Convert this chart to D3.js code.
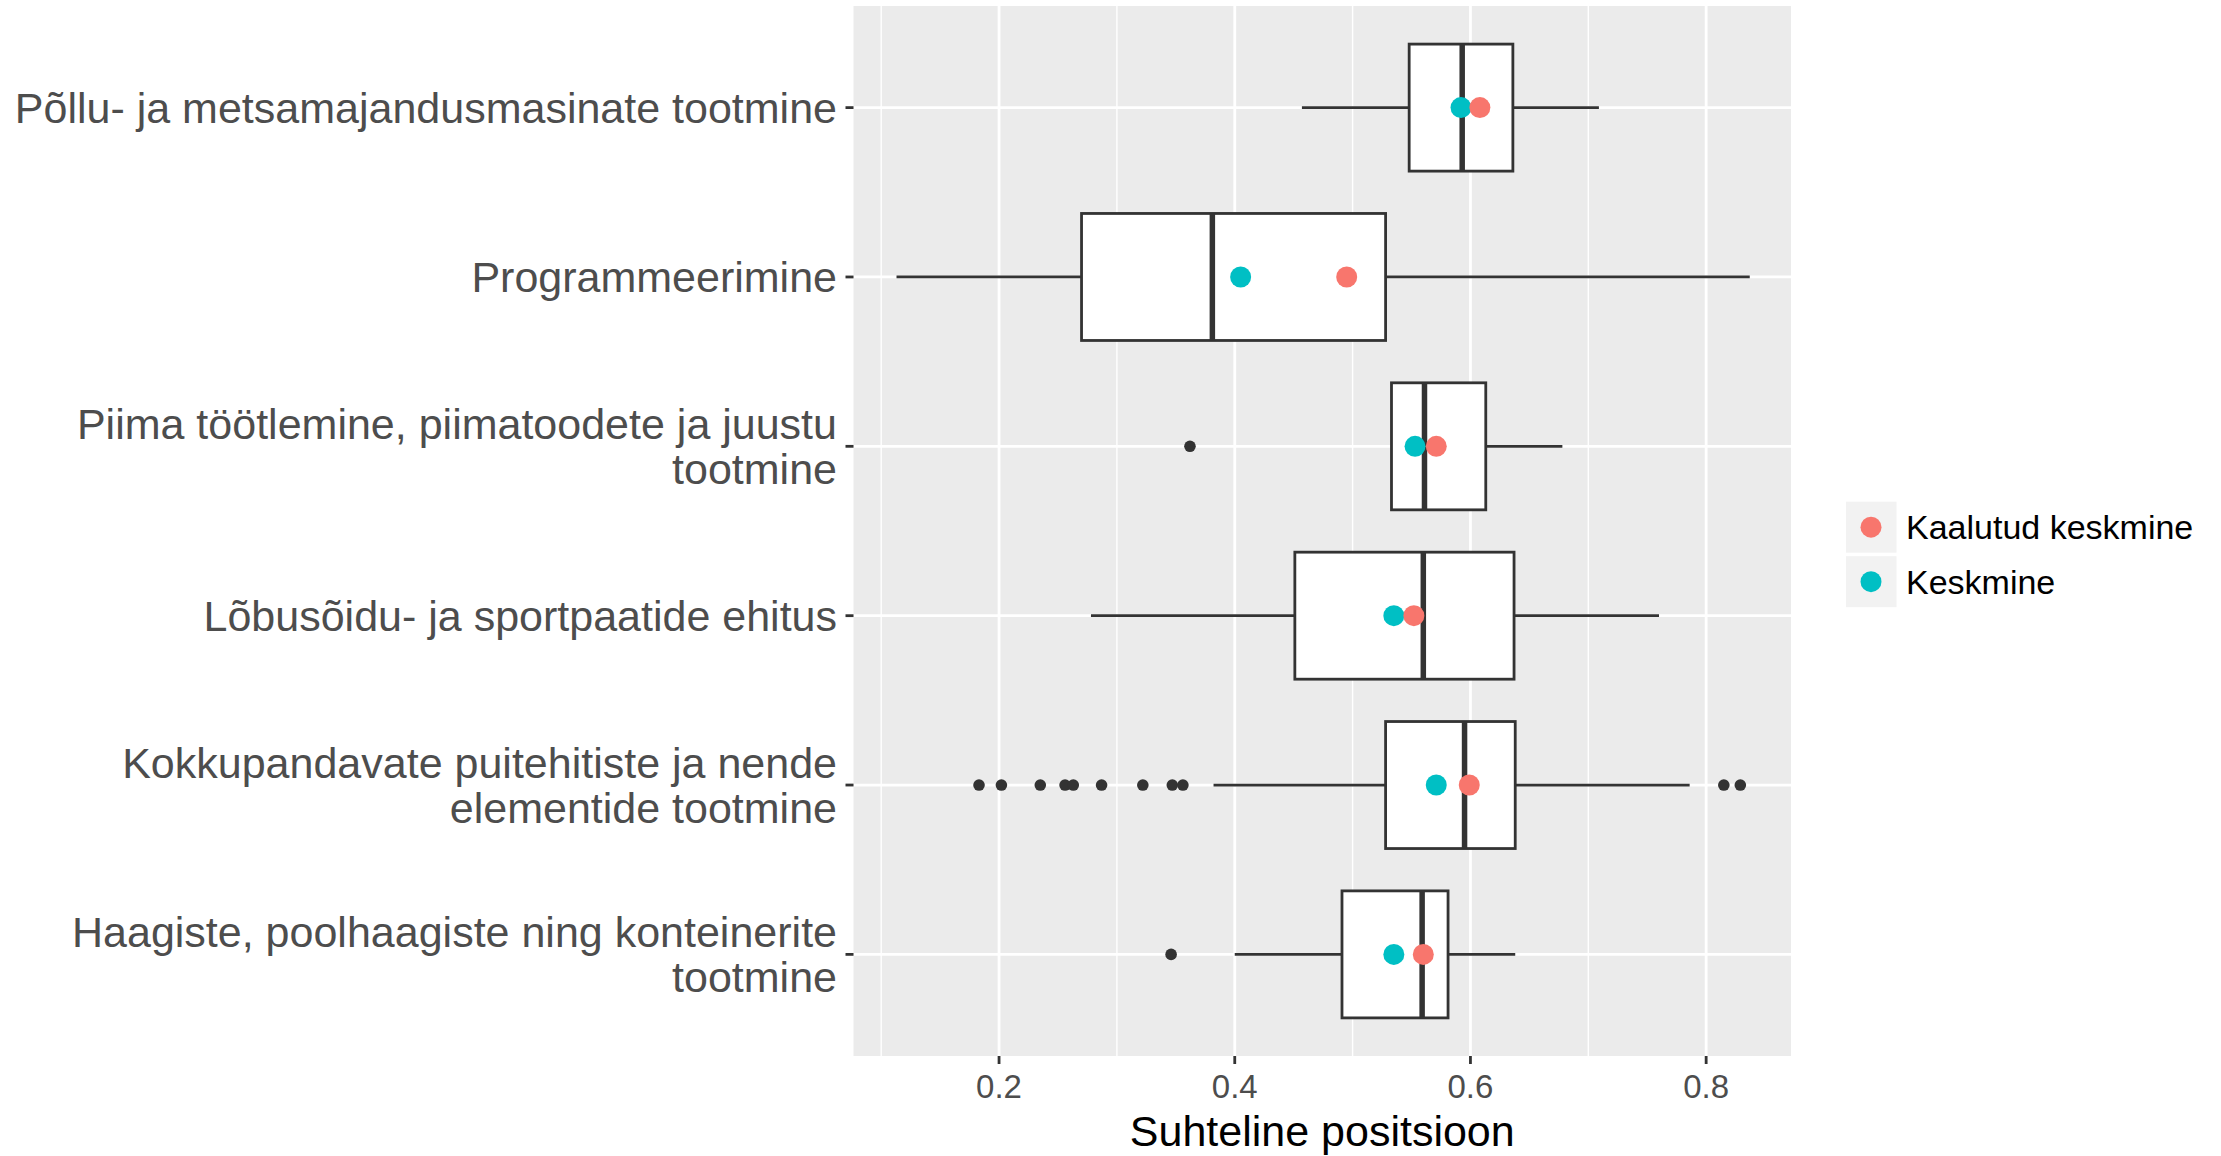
<!DOCTYPE html>
<meta charset="utf-8">
<script src="https://d3js.org/d3.v7.min.js"></script>
<style>
  body { margin: 0; background: #fff; }
  text { font-family: "Liberation Sans", Arial, sans-serif; }
</style>
<div id="my_dataviz"></div>
<script>

// categories, top to bottom (lines split where the original wraps)
var categories = [
  ["Põllu- ja metsamajandusmasinate tootmine"],
  ["Programmeerimine"],
  ["Piima töötlemine, piimatoodete ja juustu", "tootmine"],
  ["Lõbusõidu- ja sportpaatide ehitus"],
  ["Kokkupandavate puitehitiste ja nende", "elementide tootmine"],
  ["Haagiste, poolhaagiste ning konteinerite", "tootmine"]
]

// box statistics
var whiskerLow  = [0.457, 0.113, 0.533, 0.278, 0.382, 0.400]
var q1          = [0.548, 0.270, 0.533, 0.451, 0.528, 0.491]
var median      = [0.593, 0.381, 0.561, 0.560, 0.595, 0.559]
var q3          = [0.636, 0.528, 0.613, 0.637, 0.638, 0.581]
var whiskerHigh = [0.709, 0.837, 0.678, 0.760, 0.786, 0.638]
var outliers    = [
  [],
  [],
  [0.362],
  [],
  [0.183, 0.202, 0.235, 0.256, 0.263, 0.287, 0.322, 0.347, 0.356, 0.815, 0.829],
  [0.346]
]

// means
var keskmine         = [0.592, 0.405, 0.553, 0.535, 0.571, 0.535]
var kaalutudKeskmine = [0.608, 0.495, 0.571, 0.552, 0.599, 0.560]

var xTicks = [0.2, 0.4, 0.6, 0.8]
var xMinor = [0.1, 0.3, 0.5, 0.7]
var legendLabels = ["Kaalutud keskmine", "Keskmine"]
var legendColors = ["#F8766D", "#00BFC4"]

var width = 2221
var height = 1156
var panel = { left: 853.5, right: 1791, top: 6, bottom: 1056 }

var svg = d3.select("#my_dataviz")
  .append("svg")
    .attr("width", width)
    .attr("height", height)

var x = d3.scaleLinear()
  .domain([0.0765, 0.872])
  .range([panel.left, panel.right])

var y = d3.scalePoint()
  .domain(d3.range(categories.length))
  .range([panel.top, panel.bottom])
  .padding(0.6)

var boxH = y.step() * 0.75

// panel background
svg.append("rect")
  .attr("x", panel.left)
  .attr("y", panel.top)
  .attr("width", panel.right - panel.left)
  .attr("height", panel.bottom - panel.top)
  .attr("fill", "#EBEBEB")

// minor grid
svg.selectAll(".minor")
  .data(xMinor)
  .enter().append("line")
    .attr("x1", d => x(d)).attr("x2", d => x(d))
    .attr("y1", panel.top).attr("y2", panel.bottom)
    .attr("stroke", "#fff").attr("stroke-width", 1.4)

// major grid
svg.selectAll(".majorx")
  .data(xTicks)
  .enter().append("line")
    .attr("x1", d => x(d)).attr("x2", d => x(d))
    .attr("y1", panel.top).attr("y2", panel.bottom)
    .attr("stroke", "#fff").attr("stroke-width", 2.8)

svg.selectAll(".majory")
  .data(y.domain())
  .enter().append("line")
    .attr("x1", panel.left).attr("x2", panel.right)
    .attr("y1", d => y(d)).attr("y2", d => y(d))
    .attr("stroke", "#fff").attr("stroke-width", 2.8)

// boxplots
var g = svg.append("g")
var ink = "#333333"

categories.forEach(function(c, i) {
  var cy = y(i)
  g.append("line")
    .attr("x1", x(whiskerLow[i])).attr("x2", x(q1[i]))
    .attr("y1", cy).attr("y2", cy)
    .attr("stroke", ink).attr("stroke-width", 2.8)
  g.append("line")
    .attr("x1", x(q3[i])).attr("x2", x(whiskerHigh[i]))
    .attr("y1", cy).attr("y2", cy)
    .attr("stroke", ink).attr("stroke-width", 2.8)
  g.append("rect")
    .attr("x", x(q1[i]))
    .attr("y", cy - boxH / 2)
    .attr("width", x(q3[i]) - x(q1[i]))
    .attr("height", boxH)
    .attr("fill", "#fff")
    .attr("stroke", ink).attr("stroke-width", 2.8)
  g.append("line")
    .attr("x1", x(median[i])).attr("x2", x(median[i]))
    .attr("y1", cy - boxH / 2).attr("y2", cy + boxH / 2)
    .attr("stroke", ink).attr("stroke-width", 5.5)
  g.selectAll(null)
    .data(outliers[i])
    .enter().append("circle")
      .attr("cx", d => x(d))
      .attr("cy", cy)
      .attr("r", 5.8)
      .attr("fill", ink)
})

// mean points (teal first, red on top)
svg.selectAll(".kesk")
  .data(keskmine)
  .enter().append("circle")
    .attr("cx", d => x(d))
    .attr("cy", (d, i) => y(i))
    .attr("r", 10.5)
    .attr("fill", legendColors[1])

svg.selectAll(".kaal")
  .data(kaalutudKeskmine)
  .enter().append("circle")
    .attr("cx", d => x(d))
    .attr("cy", (d, i) => y(i))
    .attr("r", 10.5)
    .attr("fill", legendColors[0])

// y axis ticks + labels
categories.forEach(function(lines, i) {
  var cy = y(i)
  svg.append("line")
    .attr("x1", panel.left - 8).attr("x2", panel.left)
    .attr("y1", cy).attr("y2", cy)
    .attr("stroke", ink).attr("stroke-width", 2.8)
  var t = svg.append("text")
    .attr("text-anchor", "end")
    .attr("font-size", 43)
    .attr("fill", "#4D4D4D")
  var start = cy + 15 - (lines.length - 1) * 22.5
  lines.forEach(function(l, k) {
    t.append("tspan")
      .attr("x", 837)
      .attr("y", start + k * 45)
      .text(l)
  })
})

// x axis ticks + labels
svg.selectAll(".xtick")
  .data(xTicks)
  .enter().append("line")
    .attr("x1", d => x(d)).attr("x2", d => x(d))
    .attr("y1", panel.bottom).attr("y2", panel.bottom + 8)
    .attr("stroke", ink).attr("stroke-width", 2.8)

svg.selectAll(".xlab")
  .data(xTicks)
  .enter().append("text")
    .attr("x", d => x(d))
    .attr("y", 1098)
    .attr("text-anchor", "middle")
    .attr("font-size", 33)
    .attr("fill", "#4D4D4D")
    .text(d => d3.format(".1f")(d))

svg.append("text")
  .attr("x", (panel.left + panel.right) / 2)
  .attr("y", 1146)
  .attr("text-anchor", "middle")
  .attr("font-size", 43)
  .attr("fill", "#000")
  .text("Suhteline positsioon")

// legend
var leg = svg.append("g")
legendLabels.forEach(function(l, i) {
  var ky = 501.7 + i * 54.5
  leg.append("rect")
    .attr("x", 1846).attr("y", ky)
    .attr("width", 50.5).attr("height", 51)
    .attr("fill", "#F2F2F2")
  leg.append("circle")
    .attr("cx", 1871).attr("cy", ky + 25.5)
    .attr("r", 10.5)
    .attr("fill", legendColors[i])
  leg.append("text")
    .attr("x", 1906).attr("y", ky + 37.5)
    .attr("font-size", 34)
    .attr("fill", "#000")
    .text(l)
})

</script>
